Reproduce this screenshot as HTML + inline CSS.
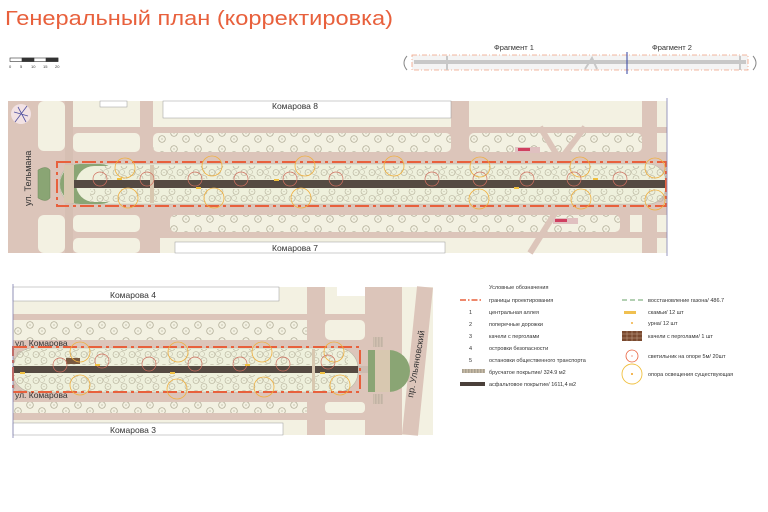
<!DOCTYPE html>
<html><head><meta charset="utf-8"><style>
html,body{margin:0;padding:0;background:#fff}
svg{display:block}
text{font-family:"Liberation Sans",sans-serif}
</style></head><body>
<svg width="768" height="512" viewBox="0 0 768 512" xmlns="http://www.w3.org/2000/svg">
<defs>
<pattern id="tr" width="24" height="16" patternUnits="userSpaceOnUse">
<circle cx="6" cy="5" r="3.3" fill="none" stroke="#aaa690" stroke-width="0.7"/><circle cx="6" cy="5" r="0.6" fill="#aaa690"/>
<circle cx="18" cy="11" r="3.3" fill="none" stroke="#aaa690" stroke-width="0.7"/><circle cx="18" cy="11" r="0.6" fill="#aaa690"/>
</pattern>
<pattern id="tr2" width="16" height="13" patternUnits="userSpaceOnUse">
<circle cx="4" cy="3.5" r="3" fill="none" stroke="#b4b09a" stroke-width="0.6"/><circle cx="4" cy="3.5" r="0.5" fill="#b4b09a"/>
<circle cx="12" cy="9.5" r="3" fill="none" stroke="#b4b09a" stroke-width="0.6"/><circle cx="12" cy="9.5" r="0.5" fill="#b4b09a"/>
<circle cx="10" cy="3" r="2.5" fill="none" stroke="#b4b09a" stroke-width="0.5"/>
</pattern>
<pattern id="hatch" width="3" height="3" patternUnits="userSpaceOnUse"><rect width="3" height="3" fill="#c8bca8"/><rect width="1.5" height="3" fill="#a8a090"/></pattern>
</defs>
<text x="5" y="25" font-size="20" fill="#e8603c" textLength="388" lengthAdjust="spacingAndGlyphs">Генеральный план (корректировка)</text>
<g stroke="#333" stroke-width="0.6">
<rect x="10" y="58" width="48" height="3.5" fill="#fff"/>
<rect x="22" y="58" width="12" height="3.5" fill="#333"/>
<rect x="46" y="58" width="12" height="3.5" fill="#333"/>
</g>
<g font-size="4" fill="#333"><text x="9" y="68">0</text><text x="20" y="68">5</text><text x="31" y="68">10</text><text x="43" y="68">15</text><text x="55" y="68">20</text></g>
<text x="494" y="50" font-size="7.5" fill="#333">Фрагмент 1</text>
<text x="652" y="50" font-size="7.5" fill="#333">Фрагмент 2</text>
<rect x="412" y="55" width="336" height="15" fill="#f4f4f4" stroke="#f0a080" stroke-width="0.8" stroke-dasharray="5 2 1 2"/>
<rect x="414" y="60" width="332" height="4" fill="#c8c8c8"/>
<path d="M407 56 q-6 7 0 14 M753 56 q6 7 0 14" fill="none" stroke="#888"/>
<path d="M585 69 l7 -11 l5 11" fill="none" stroke="#c8c8c8" stroke-width="2"/>
<line x1="447" y1="56" x2="447" y2="70" stroke="#c8c8c8" stroke-width="2"/>
<line x1="740" y1="56" x2="740" y2="70" stroke="#c8c8c8" stroke-width="2"/>
<line x1="627" y1="52" x2="627" y2="74" stroke="#3040a0" stroke-width="1"/>

<!-- TOP MAP -->
<g>
<rect x="8" y="101" width="659" height="152" fill="#dcc5ba"/>
<rect x="38" y="101" width="27" height="50" rx="6" fill="#f3f1e2"/>
<rect x="38" y="215" width="27" height="38" rx="6" fill="#f3f1e2"/>
<rect x="73" y="101" width="67" height="26" fill="#f3f1e2"/>
<rect x="153" y="101" width="298" height="26" fill="#f3f1e2"/>
<rect x="469" y="101" width="173" height="26" fill="#f3f1e2"/>
<rect x="657" y="101" width="10" height="26" fill="#f3f1e2"/>
<rect x="163" y="101" width="288" height="17" fill="#fff" stroke="#999" stroke-width="0.5"/>
<rect x="100" y="101" width="27" height="6" fill="#fff" stroke="#999" stroke-width="0.5"/>
<text x="272" y="109" font-size="8.5" fill="#333">Комарова 8</text>
<rect x="73" y="133" width="67" height="19" rx="5" fill="#f3f1e2"/>
<rect x="153" y="133" width="298" height="19" rx="5" fill="#f3f1e2"/>
<rect x="153" y="133" width="298" height="19" rx="5" fill="url(#tr)"/>
<rect x="469" y="133" width="173" height="19" rx="5" fill="#f3f1e2"/>
<rect x="469" y="133" width="173" height="19" rx="5" fill="url(#tr)"/>
<rect x="657" y="133" width="10" height="19" fill="#f3f1e2"/>
<rect x="73" y="215" width="67" height="17" rx="5" fill="#f3f1e2"/>
<rect x="170" y="215" width="450" height="17" rx="5" fill="#f3f1e2"/>
<rect x="170" y="215" width="450" height="17" rx="5" fill="url(#tr)"/>
<rect x="630" y="215" width="12" height="17" fill="#f3f1e2"/>
<rect x="657" y="215" width="10" height="17" fill="#f3f1e2"/>
<rect x="73" y="238" width="67" height="15" rx="5" fill="#f3f1e2"/>
<rect x="153" y="238" width="489" height="15" fill="#f3f1e2"/>
<rect x="657" y="238" width="10" height="15" fill="#f3f1e2"/>
<rect x="175" y="242" width="270" height="11" fill="#fff" stroke="#999" stroke-width="0.5"/>
<rect x="153" y="232" width="7" height="21" fill="#dcc5ba"/>
<text x="272" y="251" font-size="8.5" fill="#333">Комарова 7</text>
<path d="M540 127 L560 160 M585 127 L560 160 M530 253 L560 205" stroke="#dcc5ba" stroke-width="6"/>
<rect x="515" y="147" width="25" height="6" fill="#e0c0c0"/><rect x="518" y="148" width="12" height="3" fill="#d04060"/>
<rect x="553" y="218" width="25" height="6" fill="#e0c0c0"/><rect x="555" y="219" width="12" height="3" fill="#d04060"/>
<rect x="65" y="101" width="8" height="152" fill="#d6bfb3"/>
<circle cx="21" cy="114" r="10" fill="#f2e2e4"/>
<path d="M15 122 L27 106 M14 112 L28 116 M18 107 L26 122" stroke="#5050a0" stroke-width="0.8"/>
<text transform="translate(31,206) rotate(-90)" font-size="9" fill="#333">ул. Тельмана</text>
<path d="M38 170 q8 -5 12 0 v28 q-4 5 -12 0 z" fill="#8aa574" stroke="#6e8a5c" stroke-width="0.5"/>
<!-- boulevard -->
<rect x="60" y="164" width="606" height="40" rx="18" fill="#eef0dc" stroke="#b8b8a8" stroke-width="0.6"/>
<rect x="60" y="164" width="60" height="40" rx="20" fill="#8aa574"/>
<rect x="76" y="166" width="590" height="36" rx="18" fill="#eef0dc"/>
<rect x="64" y="165" width="10" height="38" fill="#d8c8b0"/>
<rect x="100" y="166" width="566" height="13" fill="url(#tr2)"/>
<rect x="90" y="189" width="576" height="13" fill="url(#tr2)"/>
<rect x="74" y="180" width="592" height="8" fill="#554a42"/>
<rect x="150" y="165" width="4" height="38" fill="#d8c8b0"/>
<rect x="57" y="162" width="609" height="44" fill="none" stroke="#e8603c" stroke-width="2" stroke-dasharray="14 4 3 4"/>
<g fill="none" stroke="#f0b040" stroke-width="0.8">
<circle cx="125" cy="168" r="10"/><circle cx="212" cy="166" r="10"/><circle cx="305" cy="166" r="10"/><circle cx="394" cy="166" r="10"/><circle cx="480" cy="167" r="10"/><circle cx="580" cy="167" r="10"/><circle cx="655" cy="168" r="10"/>
<circle cx="128" cy="198" r="10"/><circle cx="214" cy="198" r="10"/><circle cx="301" cy="198" r="10"/><circle cx="479" cy="199" r="10"/><circle cx="581" cy="199" r="10"/><circle cx="655" cy="200" r="10"/>
</g>
<g fill="none" stroke="#d07060" stroke-width="0.7">
<circle cx="100" cy="179" r="7"/><circle cx="147" cy="179" r="7"/><circle cx="195" cy="179" r="7"/><circle cx="241" cy="179" r="7"/><circle cx="290" cy="179" r="7"/><circle cx="336" cy="179" r="7"/><circle cx="432" cy="179" r="7"/><circle cx="480" cy="179" r="7"/><circle cx="527" cy="179" r="7"/><circle cx="574" cy="179" r="7"/><circle cx="620" cy="179" r="7"/>
</g>
<g fill="#f0c040"><rect x="117" y="178" width="5" height="2"/><rect x="196" y="187" width="5" height="2"/><rect x="274" y="179" width="5" height="2"/><rect x="514" y="187" width="5" height="2"/><rect x="593" y="178" width="5" height="2"/></g>
<line x1="667" y1="98" x2="667" y2="256" stroke="#8080b0" stroke-width="0.8"/>
</g>

<!-- BOTTOM MAP -->
<g>
<rect x="13" y="287" width="420" height="148" fill="#dcc5ba"/>
<rect x="13" y="287" width="294" height="27" fill="#f3f1e2"/>
<rect x="13" y="287" width="266" height="14" fill="#fff" stroke="#999" stroke-width="0.5"/>
<text x="110" y="298" font-size="8.5" fill="#333">Комарова 4</text>
<rect x="325" y="287" width="40" height="27" fill="#f3f1e2"/>
<rect x="337" y="287" width="28" height="9" fill="#fff"/>
<rect x="13" y="320" width="294" height="20" fill="#f3f1e2"/>
<rect x="13" y="320" width="294" height="20" fill="url(#tr)"/>
<rect x="325" y="320" width="40" height="20" rx="5" fill="#f3f1e2"/>
<text x="15" y="346" font-size="8.5" fill="#333">ул. Комарова</text>
<rect x="13" y="402" width="294" height="11" fill="#f3f1e2"/>
<rect x="13" y="402" width="294" height="11" fill="url(#tr)"/>
<rect x="325" y="402" width="40" height="11" rx="4" fill="#f3f1e2"/>
<rect x="13" y="420" width="294" height="15" fill="#f3f1e2"/>
<rect x="13" y="423" width="270" height="12" fill="#fff" stroke="#999" stroke-width="0.5"/>
<rect x="325" y="420" width="40" height="15" fill="#f3f1e2"/>
<text x="110" y="433" font-size="8.5" fill="#333">Комарова 3</text>
<rect x="402" y="287" width="31" height="148" fill="#f3f1e2"/>
<path d="M425 287 L410 435" stroke="#dcc5ba" stroke-width="16"/>
<rect x="13" y="348" width="345" height="44" rx="20" fill="#eef0dc" stroke="#b8b8a8" stroke-width="0.6"/>
<rect x="13" y="349" width="335" height="16" fill="url(#tr2)"/>
<rect x="13" y="375" width="335" height="16" fill="url(#tr2)"/>
<rect x="13" y="366" width="345" height="7" fill="#554a42"/>
<rect x="358" y="366" width="18" height="7" fill="#cdbbb0"/>
<rect x="312" y="349" width="3" height="42" fill="#d8c8b0"/>
<rect x="66" y="358" width="14" height="6" fill="#7a5a40"/>
<rect x="13" y="347" width="347" height="45" fill="none" stroke="#e8603c" stroke-width="2" stroke-dasharray="14 4 3 4"/>
<text x="15" y="398" font-size="8.5" fill="#333">ул. Комарова</text>
<g fill="none" stroke="#f0b040" stroke-width="0.8">
<circle cx="80" cy="352" r="10"/><circle cx="178" cy="352" r="10"/><circle cx="262" cy="352" r="10"/><circle cx="334" cy="352" r="10"/>
<circle cx="80" cy="385" r="10"/><circle cx="177" cy="389" r="10"/><circle cx="264" cy="387" r="10"/><circle cx="340" cy="385" r="10"/>
</g>
<g fill="none" stroke="#d07060" stroke-width="0.7">
<circle cx="60" cy="365" r="7"/><circle cx="102" cy="361" r="7"/><circle cx="149" cy="364" r="7"/><circle cx="195" cy="364" r="7"/><circle cx="240" cy="364" r="7"/><circle cx="283" cy="364" r="7"/><circle cx="328" cy="362" r="7"/>
</g>
<g fill="#f0c040"><rect x="20" y="372" width="5" height="2"/><rect x="95" y="364" width="5" height="2"/><rect x="170" y="372" width="5" height="2"/><rect x="245" y="364" width="5" height="2"/><rect x="320" y="372" width="5" height="2"/></g>
<rect x="368" y="350" width="13" height="42" fill="#8aa574"/>
<path d="M381 350 h8 a21 21 0 0 1 0 42 h-8z" fill="#8aa574"/>
<rect x="375" y="350" width="15" height="42" fill="#d8c8b0"/>
<rect x="373" y="337" width="10" height="10" fill="url(#hatch)" opacity="0.5"/>
<rect x="373" y="394" width="10" height="10" fill="url(#hatch)" opacity="0.5"/>
<text transform="translate(413,398) rotate(-80)" font-size="9" fill="#333">пр. Ульяновский</text>
<line x1="13" y1="284" x2="13" y2="438" stroke="#8080b0" stroke-width="0.8"/>
</g>

<!-- LEGEND -->
<g font-size="5.5" fill="#333">
<text x="489" y="289">Условные обозначения</text>
<line x1="460" y1="300" x2="483" y2="300" stroke="#e8603c" stroke-width="1.5" stroke-dasharray="6 2 1.5 2"/>
<text x="489" y="302">границы проектирования</text>
<text x="469" y="314">1</text><text x="489" y="314">центральная аллея</text>
<text x="469" y="326">2</text><text x="489" y="326">поперечные дорожки</text>
<text x="469" y="338">3</text><text x="489" y="338">качели с перголами</text>
<text x="469" y="350">4</text><text x="489" y="350">островки безопасности</text>
<text x="469" y="362">5</text><text x="489" y="362">остановки общественного транспорта</text>
<rect x="462" y="369" width="23" height="4" fill="url(#hatch)"/>
<text x="489" y="374">брусчатое покрытие/ 324.9 м2</text>
<rect x="460" y="382" width="25" height="4" fill="#4a403a"/>
<text x="489" y="386">асфальтовое покрытие/ 1611,4 м2</text>
<line x1="622" y1="300" x2="643" y2="300" stroke="#9ac09a" stroke-width="1.5" stroke-dasharray="5 3"/>
<text x="648" y="302">восстановление газона/ 486.7</text>
<rect x="624" y="311" width="12" height="3" fill="#f0c050"/>
<text x="648" y="314">скамьи/ 12 шт</text>
<circle cx="632" cy="323" r="1" fill="#f0b040"/>
<text x="648" y="325">урна/ 12 шт</text>
<rect x="622" y="331" width="20" height="10" fill="#7a4a30"/>
<path d="M622 334h20M622 338h20M627 331v10M632 331v10M637 331v10" stroke="#c8a890" stroke-width="0.5"/>
<text x="648" y="338">качели с перголами/ 1 шт</text>
<circle cx="632" cy="356" r="6" fill="none" stroke="#e8603c" stroke-width="0.8"/><circle cx="632" cy="356" r="0.6" fill="#e8603c"/>
<text x="648" y="358">светильник на опоре 5м/ 20шт</text>
<circle cx="632" cy="374" r="10" fill="none" stroke="#f0c040" stroke-width="0.9"/><circle cx="632" cy="374" r="1" fill="#f0a020"/>
<text x="648" y="376">опора освещения существующая</text>
</g>
</svg>
</body></html>
